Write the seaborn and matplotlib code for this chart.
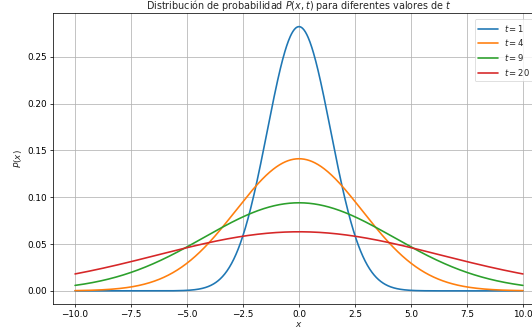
import numpy as np
import pandas as pd
import matplotlib
matplotlib.use("Agg")
import matplotlib.pyplot as plt
import seaborn as sns

# Diffusion kernel P(x, t) = exp(-x^2 / (4 D t)) / sqrt(4 pi D t)
D = 1.0
times = [1, 4, 9, 20]
x = np.linspace(-10, 10, 1000)

frames = []
for t in times:
    p = np.exp(-x**2 / (4 * D * t)) / np.sqrt(4 * np.pi * D * t)
    frames.append(pd.DataFrame({"x": x, "P": p, "label": f"$t = {t}$"}))
df = pd.concat(frames, ignore_index=True)

sns.set_theme(style="ticks", palette="tab10", rc={"axes.grid": True})
plt.rcParams["font.family"] = ["DejaVu Sans"]
plt.rcParams["mathtext.fontset"] = "dejavusans"

fig, ax = plt.subplots(figsize=(10, 6.316), dpi=53.2)
fig.subplots_adjust(left=0.099, right=1.025, top=0.960, bottom=0.095)

sns.lineplot(data=df, x="x", y="P", hue="label", ax=ax, linewidth=2.2)

ax.grid(True, color="#b0b0b0", linewidth=1.0)
for s in ax.spines.values():
    s.set_color("black")
    s.set_linewidth(1.0)
ax.tick_params(labelsize=12, colors="black", length=4.5, width=1.0)
ax.set_xlabel("$x$", fontsize=12, labelpad=2)
ax.set_ylabel("$P(x)$", fontsize=12)
ax.set_title("Distribución de probabilidad $P(x, t)$ para diferentes valores de $t$",
             fontsize=13, pad=1.5)
ax.legend(loc="upper right", bbox_to_anchor=(0.985, 0.995), fontsize=11.5,
          handlelength=2.3, labelspacing=0.45, title=None)

fig.savefig("out.png", dpi=53.2)
